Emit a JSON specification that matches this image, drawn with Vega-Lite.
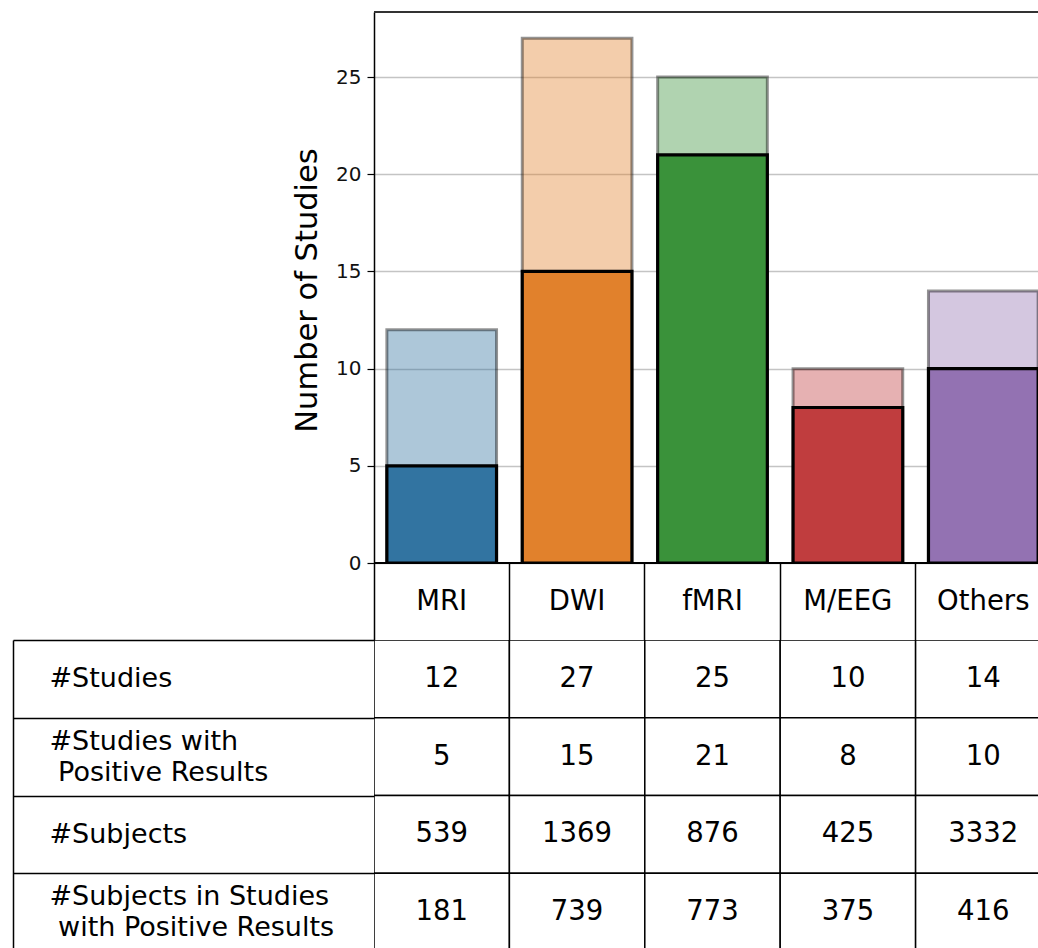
{
  "$schema": "https://vega.github.io/schema/vega-lite/v6.json",
  "padding": {"left": 12, "top": 11, "right": 0, "bottom": 0},
  "config": {"font": "DejaVu Sans", "view": {"stroke": null}},
  "bounds": "flush",
  "spacing": 77,
  "data": {
    "values": [
      {"modality": "MRI", "studies": 12, "positive": 5, "subjects": 539, "subjects_pos": 181},
      {"modality": "DWI", "studies": 27, "positive": 15, "subjects": 1369, "subjects_pos": 739},
      {"modality": "fMRI", "studies": 25, "positive": 21, "subjects": 876, "subjects_pos": 773},
      {"modality": "M/EEG", "studies": 10, "positive": 8, "subjects": 425, "subjects_pos": 375},
      {"modality": "Others", "studies": 14, "positive": 10, "subjects": 3332, "subjects_pos": 416}
    ]
  },
  "vconcat": [
    {
      "width": 665,
      "height": 551,
      "layer": [
        {
          "mark": {"type": "bar", "width": {"band": 0.81}, "fillOpacity": 0.4, "stroke": "black", "strokeOpacity": 0.42, "strokeWidth": 3, "clip": true},
          "encoding": {
            "x": {
              "field": "modality", "type": "nominal", "sort": null,
              "scale": {"range": [0, 677], "paddingInner": 0, "paddingOuter": 0},
              "axis": {
                "orient": "bottom", "title": null, "domain": false, "grid": false,
                "bandPosition": 0, "tickSize": 77, "tickColor": "black", "tickWidth": 1.5,
                "labelPadding": -38.5, "labelBaseline": "middle", "labelAlign": "center",
                "labelFontSize": 27.5, "labelColor": "black", "labelAngle": 0
              }
            },
            "y": {
              "field": "studies", "type": "quantitative",
              "scale": {"domain": [0, 28.35], "nice": false},
              "axis": {
                "title": "Number of Studies", "values": [0, 5, 10, 15, 20, 25],
                "grid": true, "gridColor": "#c4c4c4", "gridWidth": 1.5,
                "domainColor": "black", "domainWidth": 1.5,
                "tickColor": "black", "tickSize": 7, "tickWidth": 1.2,
                "labelFontSize": 20, "labelColor": "#111111", "labelPadding": 6,
                "titleFontSize": 30.5, "titleFontWeight": "normal", "titleColor": "black",
                "titleX": -58, "titleY": 278, "titleBaseline": "alphabetic", "titleAngle": -90, "titleAlign": "center"
              }
            },
            "color": {
              "field": "modality", "type": "nominal",
              "scale": {"domain": ["MRI", "DWI", "fMRI", "M/EEG", "Others"], "range": ["#3274a1", "#e1812c", "#3a923a", "#c03d3e", "#9372b2"]},
              "legend": null
            }
          }
        },
        {
          "mark": {"type": "bar", "width": {"band": 0.81}, "stroke": "black", "strokeWidth": 3.2, "clip": true, "opacity": 1},
          "encoding": {
            "x": {"field": "modality", "type": "nominal", "sort": null},
            "y": {"field": "positive", "type": "quantitative"},
            "color": {"field": "modality", "type": "nominal", "legend": null}
          }
        },
        {
          "mark": {"type": "rule", "color": "black", "strokeWidth": 1.5},
          "encoding": {"y": {"datum": 0}}
        },
        {
          "mark": {"type": "rule", "color": "#333333", "strokeWidth": 1.5},
          "encoding": {"y": {"datum": 28.35}}
        }
      ]
    },
    {
      "width": 665,
      "height": 311,
      "transform": [{"fold": ["studies", "positive", "subjects", "subjects_pos"], "as": ["metric", "value"]}],
      "encoding": {
        "x": {
          "field": "modality", "type": "nominal", "sort": null,
          "scale": {"range": [0, 677], "paddingInner": 0, "paddingOuter": 0},
          "axis": null
        },
        "y": {
          "field": "metric", "type": "nominal",
          "sort": ["studies", "positive", "subjects", "subjects_pos"],
          "scale": {"paddingInner": 0, "paddingOuter": 0},
          "axis": {
            "orient": "left", "title": null, "offset": 361, "grid": false,
            "domainColor": "black", "domainWidth": 1.5,
            "tickBand": "extent", "tickSize": -361, "tickColor": "black", "tickWidth": 1.5,
            "labelPadding": 325, "labelAlign": "left", "labelBaseline": "middle",
            "labelOffset": {"condition": {"test": "datum.value == 'positive' || datum.value == 'subjects_pos'", "value": -15.5}, "value": 0},
            "labelFontSize": 27, "labelColor": "black", "labelLineHeight": 31, "labelLimit": 0,
            "labelExpr": "datum.value == 'studies' ? '#Studies' : datum.value == 'positive' ? ['#Studies with', '\u200d Positive Results'] : datum.value == 'subjects' ? '#Subjects' : datum.value == 'subjects_pos' ? ['#Subjects in Studies', '\u200d with Positive Results'] : ''"
          }
        }
      },
      "layer": [
        {"mark": {"type": "rect", "fill": "white", "stroke": "black", "strokeWidth": 1.5, "clip": true}},
        {
          "mark": {"type": "text", "fontSize": 27.5, "color": "black", "align": "center", "baseline": "middle"},
          "encoding": {"text": {"field": "value", "type": "quantitative", "format": "d"}}
        }
      ]
    }
  ]
}
